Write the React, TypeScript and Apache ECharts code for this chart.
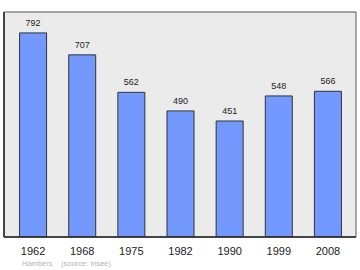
import React, { useEffect, useRef } from "react";
import * as echarts from "echarts";

const years = ["1962", "1968", "1975", "1982", "1990", "1999", "2008"];
const population = [792, 707, 562, 490, 451, 548, 566];
const footerPlace = "Hambers";
const footerSource = "(source: Insee)";

export default function App() {
  const ref = useRef<HTMLDivElement>(null);
  useEffect(() => {
    const chart = echarts.init(ref.current!, null, { renderer: "svg" });
    chart.setOption({
      animation: false,
      backgroundColor: "#ffffff",
      graphic: [
        {
          type: "rect",
          z: -10,
          silent: true,
          shape: { x: 4, y: 12, width: 352, height: 225 },
          style: { fill: "#ebebeb", stroke: "#555555", lineWidth: 1 },
        },
        {
          type: "line",
          z: -9,
          silent: true,
          shape: { x1: 4, y1: 12, x2: 4, y2: 237 },
          style: { stroke: "#444444", lineWidth: 2 },
        },
        {
          type: "line",
          z: -9,
          silent: true,
          shape: { x1: 4, y1: 237, x2: 356, y2: 237 },
          style: { stroke: "#444444", lineWidth: 2 },
        },
        {
          type: "text",
          left: 22,
          top: 259,
          style: {
            text: footerPlace,
            fill: "#b4b4b4",
            font: "7.5px 'Liberation Sans', Arial, sans-serif",
          },
        },
        {
          type: "text",
          left: 61,
          top: 259,
          style: {
            text: footerSource,
            fill: "#b4b4b4",
            font: "7.5px 'Liberation Sans', Arial, sans-serif",
          },
        },
      ],
      grid: { left: 8.5, right: 7.5, top: 12, bottom: 33, containLabel: false },
      xAxis: {
        type: "category",
        data: years,
        axisLine: { show: false },
        axisTick: { show: false },
        axisLabel: {
          color: "#222222",
          fontSize: 11,
          fontFamily: "Liberation Sans",
          margin: 8,
        },
      },
      yAxis: {
        type: "value",
        min: 0,
        max: 871,
        show: false,
        splitLine: { show: false },
      },
      series: [
        {
          type: "bar",
          data: population,
          barWidth: 28,
          itemStyle: {
            color: "#7399ff",
            borderColor: "#333333",
            borderWidth: 1,
          },
          label: {
            show: true,
            position: "top",
            distance: 5,
            color: "#222222",
            fontSize: 9,
            fontFamily: "Liberation Sans",
          },
        },
      ],
    });
    return () => chart.dispose();
  }, []);
  return <div ref={ref} style={{ width: 360, height: 270, position: "absolute", left: 0, top: 0 }} />;
}
